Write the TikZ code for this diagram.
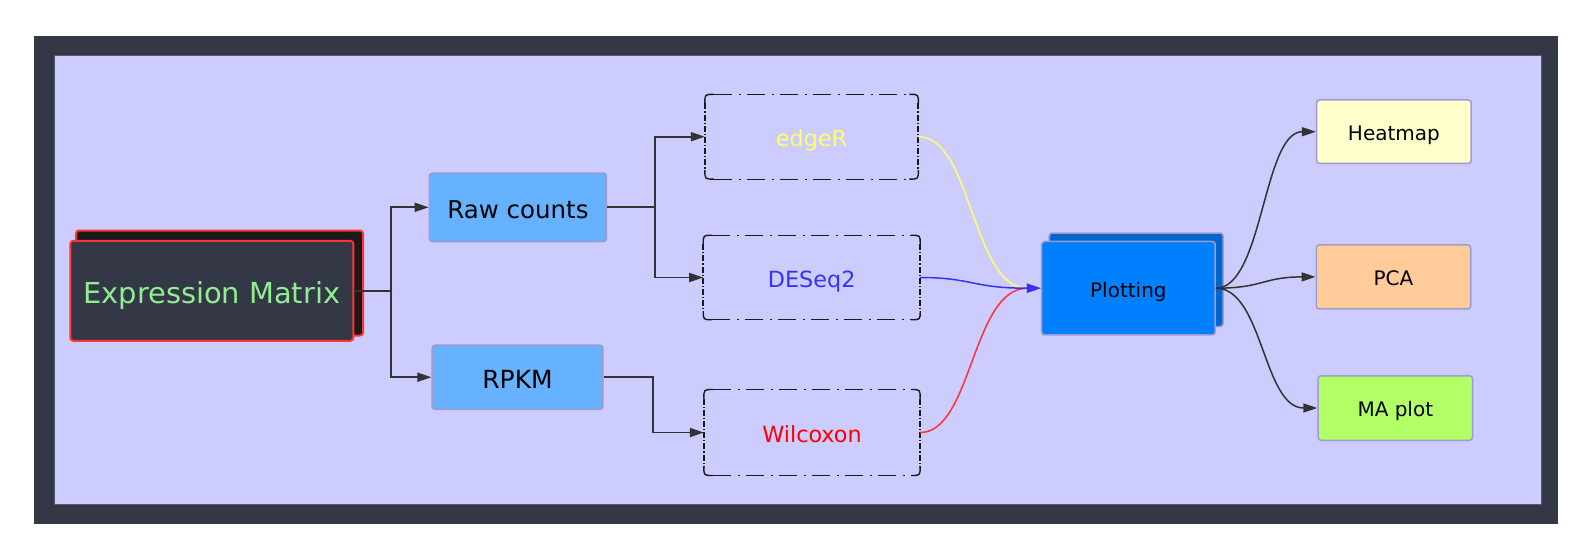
\documentclass[tikz,border=0pt]{standalone}
\usepackage{fontspec}
\newfontfamily\dvs{DejaVu Sans}
\usetikzlibrary{arrows.meta}
\definecolor{frameC}{HTML}{343746}
\definecolor{lavC}{HTML}{CCCCFF}
\definecolor{innerC}{HTML}{55576A}
\definecolor{emred}{HTML}{FF3333}
\definecolor{embk}{HTML}{1A1A1A}
\definecolor{emgreen}{HTML}{90EE90}
\definecolor{boxB}{HTML}{9C9CD0}
\definecolor{rawC}{HTML}{66B2FF}
\definecolor{ddC}{HTML}{1A1A1A}
\definecolor{yelT}{HTML}{FFFF66}
\definecolor{bluT}{HTML}{3333FF}
\definecolor{redT}{HTML}{FF0000}
\definecolor{plotC}{HTML}{0080FF}
\definecolor{plotbk}{HTML}{0066CC}
\definecolor{heatC}{HTML}{FFFFCC}
\definecolor{pcaC}{HTML}{FFCC99}
\definecolor{maC}{HTML}{B3FF66}
\definecolor{lineC}{HTML}{333333}
\definecolor{yelL}{HTML}{FFFF66}
\definecolor{bluL}{HTML}{3333FF}
\definecolor{redL}{HTML}{FF3333}
\newcommand\myfs[1]{\dvs\fontsize{#1pt}{#1pt}\selectfont}
\begin{document}
\begin{tikzpicture}[x=1pt,y=-1pt,
  conn/.style={draw=lineC, line width=1.8pt, -{Triangle[length=14pt,width=9pt]}},
  cur/.style={line width=1.5pt, -{Triangle[length=14pt,width=9pt]}},
  myfont/.code={\pgfmathsetmacro\tmpH{0.88*#1}%
    \edef\tmpS{\noexpand\tikzset{font=\noexpand\myfs{#1}, text height=\tmpH pt, text depth=0pt}}\tmpS},
  box/.style={rectangle, rounded corners=3pt, line width=1.5pt, inner sep=0pt, align=center},
  solidbox/.style={box, draw=boxB},
  ddbox/.style={box, draw=none, outer sep=0pt, myfont=22.3},
  hd/.style={draw=ddC, line width=1.1pt, dash pattern=on 18pt off 7pt on 2pt off 6pt},
  vd/.style={draw=ddC, line width=1.8pt, dash pattern=on 6pt off 2pt on 1.2pt off 2pt},
  cd/.style={draw=ddC, line width=1.4pt}
]
\useasboundingbox (0,0) rectangle (1592,558);
\fill[white] (0,0) rectangle (1592,558);
\fill[frameC] (34,36) rectangle (1558,524);
\filldraw[fill=lavC, draw=innerC, line width=1pt] (54,55) rectangle (1541.5,504);

% Expression matrix
\node[box, draw=emred, fill=embk, line width=2pt, minimum width=287pt, minimum height=105pt] (emb) at (219.5,283) {};
\node[box, draw=emred, fill=frameC, line width=2pt, minimum width=283pt, minimum height=100pt,
  myfont=28.9, text=emgreen] (em) at (211.8,290.8) {Expression Matrix};

% first level
\node[solidbox, fill=rawC, minimum width=177pt, minimum height=68.5pt, myfont=24.5] (raw) at (517.9,207.3) {Raw counts};
\node[solidbox, fill=rawC, minimum width=170.7pt, minimum height=64.2pt, myfont=25] (rpkm) at (517.5,377.2) {RPKM};

% methods
\node[ddbox, minimum width=213.5pt, minimum height=84.8pt, text=yelT] (edger) at (811.6,136.7) {edgeR};
\node[ddbox, minimum width=217pt, minimum height=84.5pt, text=bluT] (deseq) at (811.7,277.5) {DESeq2};
\node[ddbox, minimum width=216.3pt, minimum height=86pt, text=redT] (wil) at (812,432.5) {Wilcoxon};
\foreach \n in {edger,deseq,wil}{
  \draw[hd] ([xshift=9pt]\n.north west) -- ([xshift=-9pt]\n.north east);
  \draw[hd] ([xshift=9pt]\n.south west) -- ([xshift=-9pt]\n.south east);
  \draw[vd] ([yshift=-9pt]\n.north west) -- ([yshift=9pt]\n.south west);
  \draw[vd] ([yshift=-9pt]\n.north east) -- ([yshift=9pt]\n.south east);
  \draw[cd] ([xshift=9pt]\n.north west) .. controls (\n.north west) .. ([yshift=-9pt]\n.north west);
  \draw[cd] ([xshift=-9pt]\n.north east) .. controls (\n.north east) .. ([yshift=-9pt]\n.north east);
  \draw[cd] ([xshift=9pt]\n.south west) .. controls (\n.south west) .. ([yshift=9pt]\n.south west);
  \draw[cd] ([xshift=-9pt]\n.south east) .. controls (\n.south east) .. ([yshift=9pt]\n.south east);
}

% plotting
\node[solidbox, fill=plotbk, minimum width=174pt, minimum height=93.5pt] (plotb) at (1136.2,279.8) {};
\node[solidbox, fill=plotC, minimum width=173.5pt, minimum height=93.5pt, myfont=20] (plot) at (1128.4,288.2) {Plotting};

% outputs
\node[solidbox, fill=heatC, minimum width=154.5pt, minimum height=63.5pt, myfont=20] (heat) at (1393.9,131.7) {Heatmap};
\node[solidbox, fill=pcaC, minimum width=154.5pt, minimum height=64pt, myfont=20] (pca) at (1393.5,276.9) {PCA};
\node[solidbox, fill=maC, minimum width=154.5pt, minimum height=64.5pt, myfont=20] (ma) at (1395.3,408) {MA plot};

% connectors
\coordinate (j1) at (391,0);
\coordinate (j2) at (654.6,0);
\coordinate (j3) at (652.9,0);
\draw[conn] (em.east) -- (em.east -| j1) |- (raw.west);
\draw[conn] (em.east) -- (em.east -| j1) |- (rpkm.west);
\draw[conn] (raw.east) -- (raw.east -| j2) |- (edger.west);
\draw[conn] (raw.east) -- (raw.east -| j2) |- (deseq.west);
\draw[conn] (rpkm.east) -- (rpkm.east -| j3) |- (wil.west);

\draw[cur, draw=yelL] (edger.east) .. controls (972,136.7) and (972,288.2) .. (plot.west);
\draw[cur, draw=redL] (wil.east) .. controls (972,432.5) and (972,288.2) .. (plot.west);
\draw[cur, draw=bluL] (deseq.east) .. controls (972,277.5) and (972,288.2) .. (plot.west);

\draw[cur, draw=lineC] (plot.east) .. controls (1263,288.2) and (1263,131.7) .. (heat.west);
\draw[cur, draw=lineC] (plot.east) .. controls (1263,288.2) and (1263,276.9) .. (pca.west);
\draw[cur, draw=lineC] (plot.east) .. controls (1263,288.2) and (1263,408) .. (ma.west);
\end{tikzpicture}
\end{document}
